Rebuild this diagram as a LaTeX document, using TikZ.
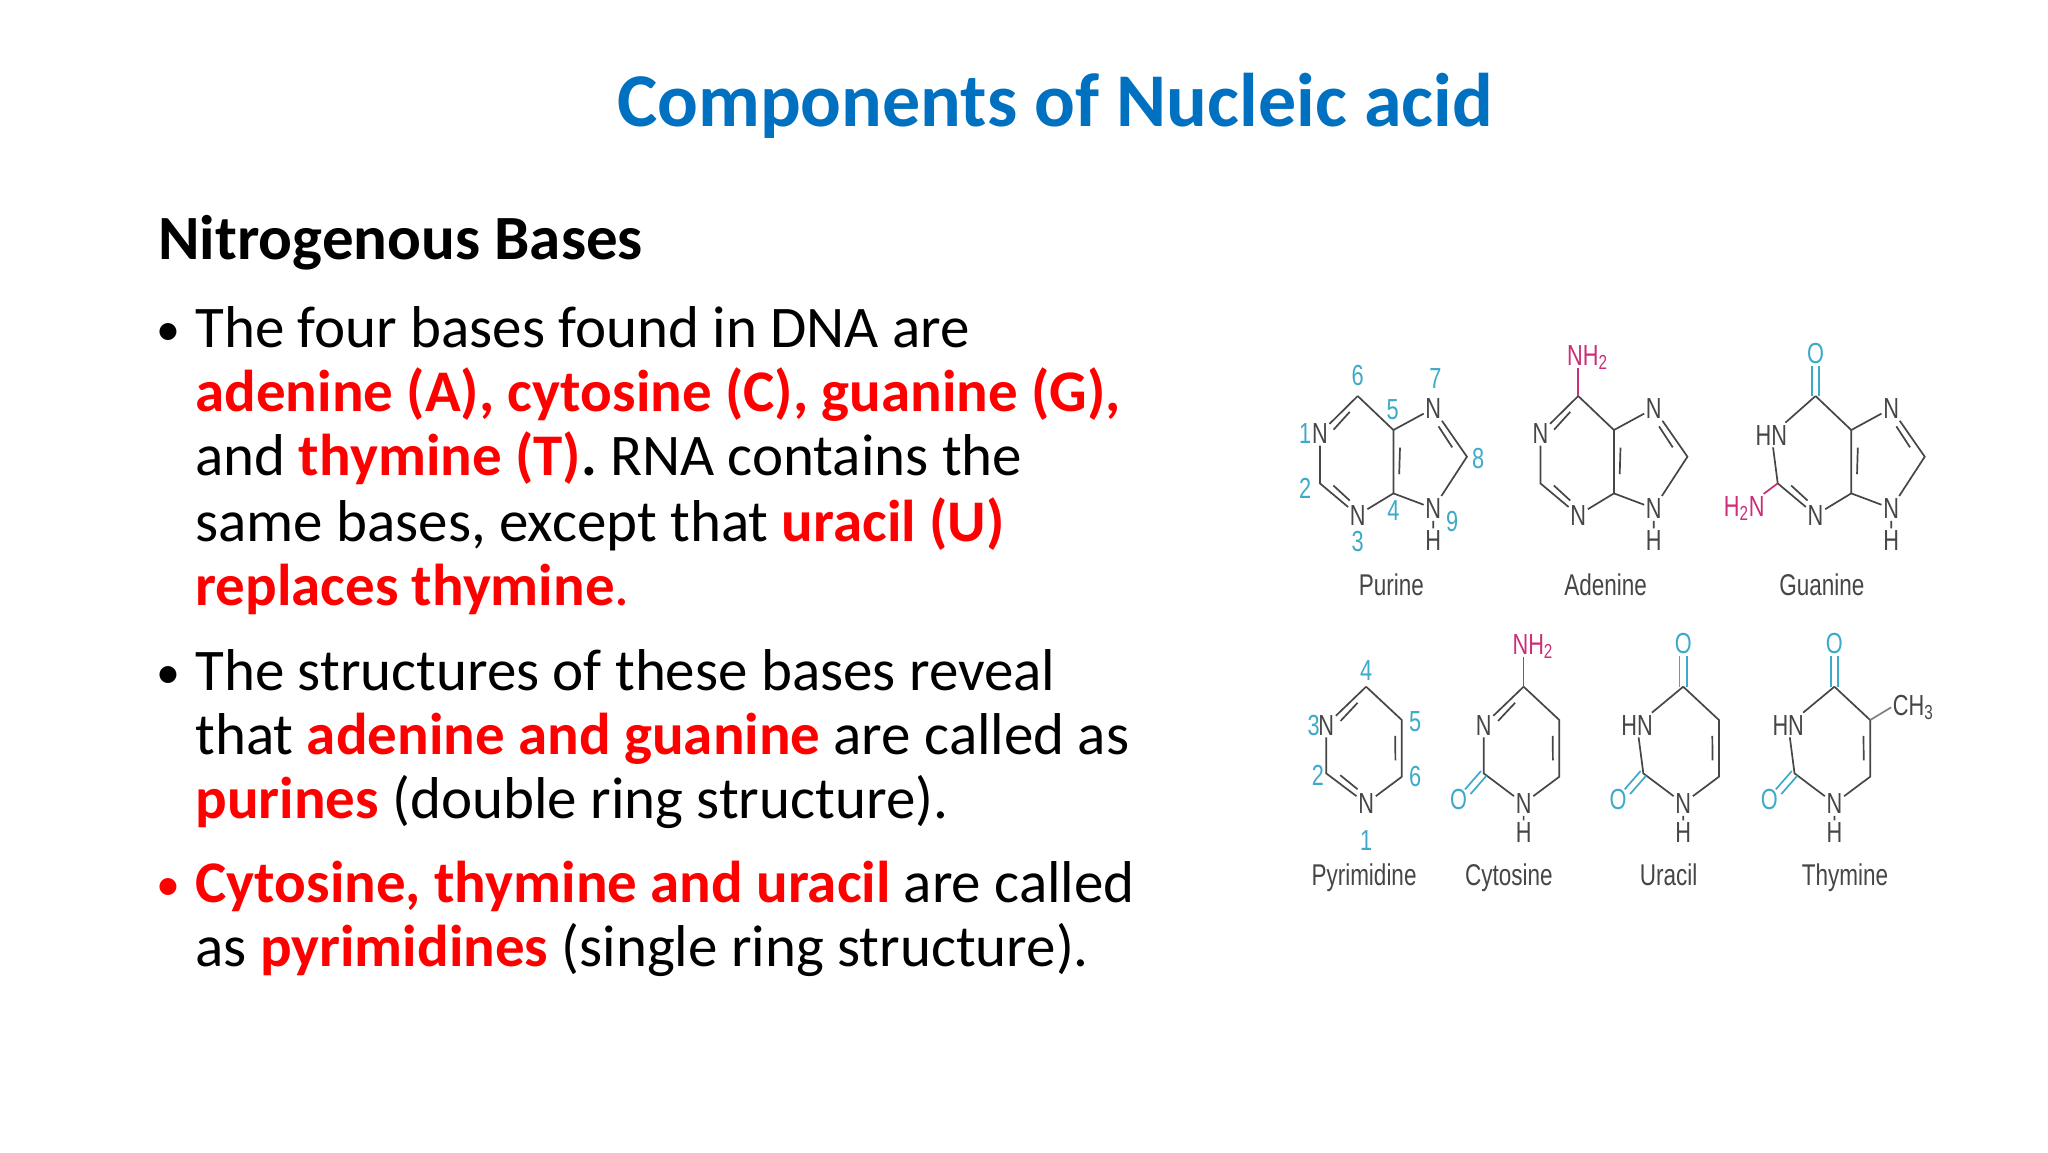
\documentclass[tikz,border=0pt]{standalone}
\usepackage{fontspec}
\setmainfont{Carlito}
\newfontfamily\arialf{Liberation Sans}
\usetikzlibrary{calc}
\definecolor{bluec}{RGB}{0,112,192}
\definecolor{redc}{RGB}{255,0,0}
\definecolor{bondg}{RGB}{70,70,70}
\definecolor{cyanc}{RGB}{60,170,200}
\definecolor{magc}{RGB}{205,45,120}
\newcommand\rb[1]{\textcolor{redc}{\textbf{#1}}}
\newcommand\dbl[3]{\draw[bond] ($(#1)!0.24!(#2)!3.5pt!(#3)$) -- ($(#1)!0.76!(#2)!3.5pt!(#3)$);}
\newcommand\exdbl[3]{\draw[bond,#3] ($(#1)!1.8pt!90:(#2)$) -- ($(#2)!1.8pt!-90:(#1)$);
  \draw[bond,#3] ($(#1)!1.8pt!-90:(#2)$) -- ($(#2)!1.8pt!90:(#1)$);}
\tikzset{
  bond/.style={draw=bondg,line width=0.85pt},
  atm/.style={font=\arialf\fontsize{14.5}{14.5}\selectfont,text=bondg,inner sep=1pt,xscale=0.75},
  num/.style={atm,text=cyanc,inner sep=0pt},
  mlabel/.style={atm,anchor=base,font=\arialf\fontsize{15}{15}\selectfont},
  line/.style={anchor=base west,font=\fontsize{29.5}{32}\selectfont,inner sep=0pt},
  bul/.style={anchor=base west,font=\fontsize{24}{32}\selectfont,inner sep=0pt},
  mol/.style={x=0.21pt,y=-0.1667pt},
}
\begin{document}
\begin{tikzpicture}[x=0.5pt,y=-0.5pt]
\fill[white] (0,0) rectangle (2048,1152);
\useasboundingbox (0,0) rectangle (2048,1152);
\node[font=\fontsize{38}{42}\selectfont\bfseries,text=bluec] (title) at (1055,106) {Components of Nucleic acid};
\node[line,font=\fontsize{31.5}{34}\selectfont\bfseries] (head) at (158,259) {Nitrogenous Bases};
\node[bul] (b1) at (156,345) {•};
\node[line] (l1) at (195,347) {The four bases found in DNA are};
\node[line] (l2) at (195,411) {\rb{adenine (A), cytosine (C), guanine (G),}};
\node[line] (l3) at (195,475) {and \rb{thymine (T)}\textbf{.} RNA contains the};
\node[line] (l4) at (195,541) {same bases, except that \rb{uracil (U)}};
\node[line] (l5) at (195,605) {\rb{replaces thymine}\textcolor{redc}{.}};
\node[bul] (b2) at (156,688) {•};
\node[line] (l6) at (195,690) {The structures of these bases reveal};
\node[line] (l7) at (195,754) {that \rb{adenine and guanine} are called as};
\node[line] (l8) at (195,818) {\rb{purines} (double ring structure).};
\node[bul,text=redc] (b3) at (156,900) {•};
\node[line] (l9) at (195,902) {\rb{Cytosine, thymine and uracil} are called};
\node[line] (l10) at (195,966) {as \rb{pyrimidines} (single ring structure).};

% ---------- row 1
\begin{scope}[shift={(1280,320)}]
\begin{scope}[mol]
% Purine
\coordinate (pC6) at (185,228); \node[atm] (pN1) at (95,340) {N};
\coordinate (pC2) at (95,490); \node[atm] (pN3) at (185,585) {N};
\coordinate (pC4) at (270,520); \coordinate (pC5) at (270,330);
\node[atm] (pN7) at (365,265) {N}; \coordinate (pC8) at (445,410);
\node[atm] (pN9) at (365,565) {N}; \node[atm] (pH9) at (365,662) {H};
\coordinate (pR6) at (182,410); \coordinate (pR5) at (345,410);
\draw[bond] (pC6)--(pN1)--(pC2)--(pN3)--(pC4)--(pC5)--(pC6);
\draw[bond] (pC5)--(pN7)--(pC8)--(pN9)--(pC4); \draw[bond] (pN9)--(pH9);
\dbl{pN1}{pC6}{pR6}\dbl{pC2}{pN3}{pR6}\dbl{pC5}{pC4}{pR5}\dbl{pN7}{pC8}{pR5}
\node[num] (n1) at (60,340) {1}; \node[num] (n2) at (60,505) {2};
\node[num] (n3) at (185,665) {3}; \node[num] (n4) at (270,570) {4};
\node[num] (n5) at (268,268) {5}; \node[num] (n6) at (185,165) {6};
\node[num] (n7) at (370,175) {7}; \node[num] (n8) at (472,415) {8};
\node[num] (n9) at (410,605) {9};
\node[mlabel] (lpur) at (265,825) {Purine};
% Adenine
\begin{scope}[shift={(525,0)}]
\coordinate (aC6) at (185,228); \node[atm] (aN1) at (95,340) {N};
\coordinate (aC2) at (95,490); \node[atm] (aN3) at (185,585) {N};
\coordinate (aC4) at (270,520); \coordinate (aC5) at (270,330);
\node[atm] (aN7) at (365,265) {N}; \coordinate (aC8) at (445,410);
\node[atm] (aN9) at (365,565) {N}; \node[atm] (aH9) at (365,662) {H};
\coordinate (aR6) at (182,410); \coordinate (aR5) at (345,410);
\draw[bond] (aC6)--(aN1)--(aC2)--(aN3)--(aC4)--(aC5)--(aC6);
\draw[bond] (aC5)--(aN7)--(aC8)--(aN9)--(aC4); \draw[bond] (aN9)--(aH9);
\dbl{aN1}{aC6}{aR6}\dbl{aC2}{aN3}{aR6}\dbl{aC5}{aC4}{aR5}\dbl{aN7}{aC8}{aR5}
\node[atm,text=magc] (aNH) at (207,112) {NH\textsubscript{2}};
\coordinate (aNe) at (185,145);
\draw[bond,draw=magc] (aC6)--(aNe);
\node[mlabel] (lade) at (250,825) {Adenine};
\end{scope}
% Guanine
\begin{scope}[shift={(1090,0)}]
\coordinate (gC6) at (185,228); \node[atm] (gN1) at (80,345) {HN};
\coordinate (gC2) at (95,490); \node[atm] (gN3) at (185,585) {N};
\coordinate (gC4) at (270,520); \coordinate (gC5) at (270,330);
\node[atm] (gN7) at (365,265) {N}; \coordinate (gC8) at (445,410);
\node[atm] (gN9) at (365,565) {N}; \node[atm] (gH9) at (365,662) {H};
\coordinate (gR6) at (182,410); \coordinate (gR5) at (345,410);
\draw[bond] (gC6)--(gN1)--(gC2)--(gN3)--(gC4)--(gC5)--(gC6);
\draw[bond] (gC5)--(gN7)--(gC8)--(gN9)--(gC4); \draw[bond] (gN9)--(gH9);
\dbl{gC2}{gN3}{gR6}\dbl{gC5}{gC4}{gR5}\dbl{gN7}{gC8}{gR5}
\node[atm,text=cyanc] (gO) at (185,100) {O}; \coordinate (gOe) at (185,138);
\exdbl{gC6}{gOe}{draw=cyanc}
\node[atm,text=magc] (gNH) at (15,565) {H\textsubscript{2}N};
\draw[bond,draw=magc] (gC2)--(gNH);
\node[mlabel] (lgua) at (200,825) {Guanine};
\end{scope}
\end{scope}
\end{scope}

% ---------- row 2
\begin{scope}[shift={(1280,610)}]
\begin{scope}[mol]
% Pyrimidine
\coordinate (yC4) at (205,230); \node[atm] (yN3) at (110,345) {N};
\coordinate (yC2) at (110,490); \node[atm] (yN1) at (205,580) {N};
\coordinate (yC6) at (290,500); \coordinate (yC5) at (290,330);
\coordinate (yR) at (200,410);
\draw[bond] (yC4)--(yN3)--(yC2)--(yN1)--(yC6)--(yC5)--(yC4);
\dbl{yN3}{yC4}{yR}\dbl{yC2}{yN1}{yR}\dbl{yC5}{yC6}{yR}
\node[num] (m3) at (80,345) {3}; \node[num] (m4) at (205,180) {4};
\node[num] (m5) at (322,335) {5}; \node[num] (m6) at (322,500) {6};
\node[num] (m2) at (90,497) {2}; \node[num] (m1) at (205,690) {1};
\node[mlabel] (lpyr) at (200,825) {Pyrimidine};
% Cytosine
\begin{scope}[shift={(375,0)}]
\coordinate (cC4) at (205,230); \node[atm] (cN3) at (110,345) {N};
\coordinate (cC2) at (110,490); \node[atm] (cN1) at (205,580) {N};
\coordinate (cC6) at (290,500); \coordinate (cC5) at (290,330);
\coordinate (cR) at (200,410);
\draw[bond] (cC4)--(cN3)--(cC2)--(cN1)--(cC6)--(cC5)--(cC4);
\node[atm] (cH) at (205,668) {H}; \draw[bond] (cN1)--(cH);
\dbl{cN3}{cC4}{cR}\dbl{cC5}{cC6}{cR}
\node[atm,text=magc] (cNH) at (227,110) {NH\textsubscript{2}};
\coordinate (cNe) at (205,142); \draw[bond,draw=magc] (cC4)--(cNe);
\node[atm,text=cyanc] (cO) at (50,567) {O}; \coordinate (cOe) at (72,545);
\exdbl{cC2}{cOe}{draw=cyanc}
\node[mlabel] (lcyt) at (170,825) {Cytosine};
\end{scope}
% Uracil
\begin{scope}[shift={(755,0)}]
\coordinate (uC4) at (205,230); \node[atm] (uN3) at (95,345) {HN};
\coordinate (uC2) at (110,490); \node[atm] (uN1) at (205,580) {N};
\coordinate (uC6) at (290,500); \coordinate (uC5) at (290,330);
\coordinate (uR) at (200,410);
\draw[bond] (uC4)--(uN3)--(uC2)--(uN1)--(uC6)--(uC5)--(uC4);
\node[atm] (uH) at (205,668) {H}; \draw[bond] (uN1)--(uH);
\dbl{uC5}{uC6}{uR}
\node[atm,text=cyanc] (uO) at (205,100) {O}; \coordinate (uOe) at (205,138);
\exdbl{uC4}{uOe}{draw=cyanc}
\node[atm,text=cyanc] (uO2) at (50,567) {O}; \coordinate (uO2e) at (72,545);
\exdbl{uC2}{uO2e}{draw=cyanc}
\node[mlabel] (lura) at (170,825) {Uracil};
\end{scope}
% Thymine
\begin{scope}[shift={(1115,0)}]
\coordinate (tC4) at (205,230); \node[atm] (tN3) at (95,345) {HN};
\coordinate (tC2) at (110,490); \node[atm] (tN1) at (205,580) {N};
\coordinate (tC6) at (290,500); \coordinate (tC5) at (290,330);
\coordinate (tR) at (200,410);
\draw[bond] (tC4)--(tN3)--(tC2)--(tN1)--(tC6)--(tC5)--(tC4);
\node[atm] (tH) at (205,668) {H}; \draw[bond] (tN1)--(tH);
\dbl{tC5}{tC6}{tR}
\node[atm,text=cyanc] (tO) at (205,100) {O}; \coordinate (tOe) at (205,138);
\exdbl{tC4}{tOe}{draw=cyanc}
\node[atm,text=cyanc] (tO2) at (50,567) {O}; \coordinate (tO2e) at (72,545);
\exdbl{tC2}{tO2e}{draw=cyanc}
\node[atm,anchor=west] (tCH) at (340,292) {CH\textsubscript{3}};
\draw[bond,draw=gray] (tC5)--(tCH.west);
\node[mlabel] (lthy) at (230,825) {Thymine};
\end{scope}
\end{scope}
\end{scope}
\end{tikzpicture}
\end{document}
